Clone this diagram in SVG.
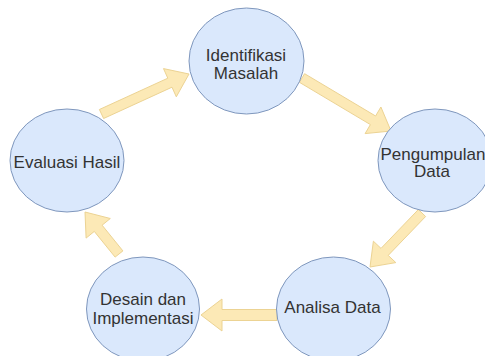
<svg xmlns="http://www.w3.org/2000/svg" width="485" height="356" viewBox="0 0 485 356">
<style>
.node{fill:#dae8fc;stroke:#7f97bd;stroke-width:1}
.arrow{fill:#fce9b6;stroke:#ecd393;stroke-width:1;stroke-linejoin:round}
.label{font-family:"Liberation Sans",Arial,sans-serif;font-size:17px;fill:#333;text-anchor:middle}
</style>
<rect width="485" height="356" fill="#ffffff"/>
<g id="connectors">
<polygon class="arrow" points="99.4,109.5 167.8,78.2 163.5,68.6 189,74 176.3,96.8 172.0,87.2 103.6,118.5"/>
<polygon class="arrow" points="304.6,73.7 375.6,116.0 380.9,107.0 391,131 365.1,133.6 370.4,124.6 299.4,82.3"/>
<polygon class="arrow" points="418.4,209.5 381.0,248.4 373.4,241.2 370,267 395.8,262.6 388.2,255.4 425.6,216.5"/>
<polygon class="arrow" points="277,309.5 222,309.5 222,299 201,315 222,331 222,320.5 277,320.5"/>
<polygon class="arrow" points="122.9,250.9 102.1,225.2 110.3,218.5 85,212 86.1,238.1 94.3,231.4 115.1,257.1"/>
</g>
<g id="identifikasi">
<ellipse class="node" cx="246.5" cy="61" rx="57.5" ry="53"/>
<text class="label" x="246" y="61">Identifikasi</text>
<text class="label" x="246" y="79">Masalah</text>
</g>
<g id="pengumpulan">
<ellipse class="node" cx="435" cy="160.5" rx="57" ry="51.5"/>
<text class="label" x="433" y="159.5">Pengumpulan</text>
<text class="label" x="432" y="177">Data</text>
</g>
<g id="analisa">
<ellipse class="node" cx="333.5" cy="309" rx="57" ry="52"/>
<text class="label" x="332.5" y="313">Analisa Data</text>
</g>
<g id="desain">
<ellipse class="node" cx="143" cy="309" rx="56.5" ry="52"/>
<text class="label" x="143" y="304.5">Desain dan</text>
<text class="label" x="143" y="323.5">Implementasi</text>
</g>
<g id="evaluasi">
<ellipse class="node" cx="67" cy="160.5" rx="57" ry="51.5"/>
<text class="label" x="67" y="168">Evaluasi Hasil</text>
</g>
</svg>
